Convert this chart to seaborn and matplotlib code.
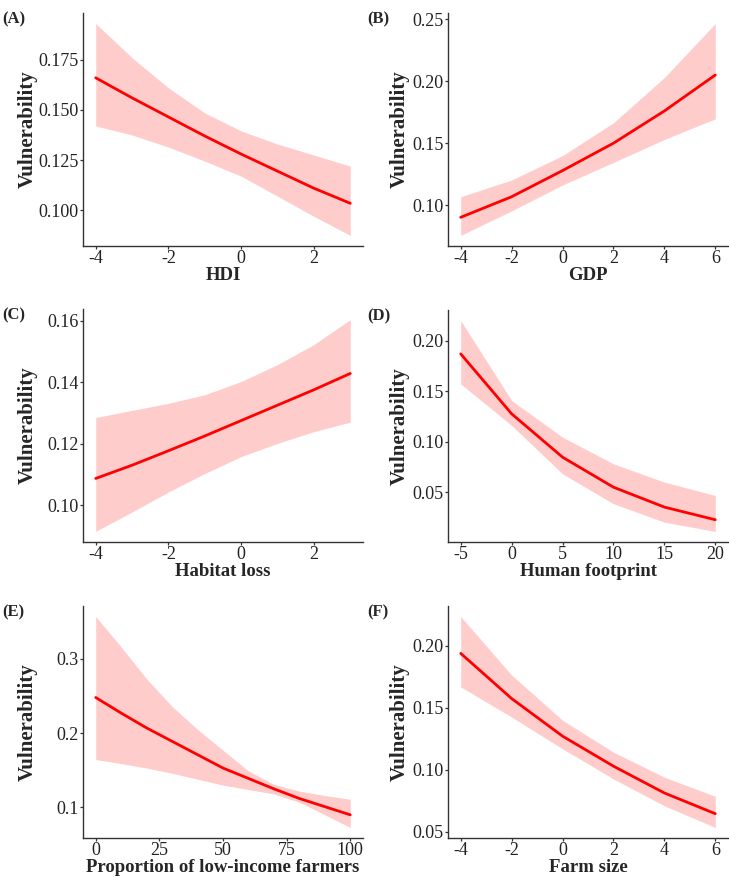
import numpy as np
import pandas as pd
import matplotlib
matplotlib.use("Agg")
import matplotlib.pyplot as plt
import seaborn as sns

# ---- data ----
hdi_x = [-4, -3, -2, -1, 0, 1, 2, 3]
hdi_fit = [0.166, 0.156, 0.1465, 0.137, 0.128, 0.1195, 0.111, 0.1035]
hdi_hi = [0.193, 0.176, 0.161, 0.1485, 0.1395, 0.133, 0.1275, 0.122]
hdi_lo = [0.142, 0.1375, 0.1315, 0.1245, 0.117, 0.107, 0.097, 0.0875]

gdp_x = [-4, -2, 0, 2, 4, 6]
gdp_fit = [0.0902, 0.1068, 0.1279, 0.150, 0.176, 0.205]
gdp_hi = [0.1068, 0.1203, 0.140, 0.1665, 0.203, 0.2465]
gdp_lo = [0.0756, 0.0954, 0.1163, 0.1345, 0.153, 0.1697]

hab_x = [-4, -3, -2, -1, 0, 1, 2, 3]
hab_fit = [0.1087, 0.113, 0.1177, 0.1225, 0.1275, 0.1325, 0.1375, 0.1428]
hab_hi = [0.1285, 0.1308, 0.1331, 0.1359, 0.1402, 0.1457, 0.1522, 0.1603]
hab_lo = [0.0915, 0.0978, 0.1043, 0.1103, 0.1158, 0.1201, 0.1239, 0.1270]

hfp_x = [-5, 0, 5, 10, 15, 20]
hfp_fit = [0.1868, 0.1275, 0.0846, 0.0549, 0.0352, 0.0227]
hfp_hi = [0.2198, 0.1407, 0.1044, 0.078, 0.0599, 0.0467]
hfp_lo = [0.1571, 0.116, 0.0681, 0.0385, 0.0203, 0.0111]

lif_x = [0, 10, 20, 30, 40, 50, 60, 70, 80, 90, 100]
lif_fit = [0.248, 0.227, 0.207, 0.189, 0.171, 0.153, 0.139, 0.125, 0.112, 0.101, 0.090]
lif_hi = [0.357, 0.316, 0.273, 0.236, 0.205, 0.177, 0.149, 0.131, 0.122, 0.116, 0.111]
lif_lo = [0.1645, 0.159, 0.153, 0.146, 0.138, 0.130, 0.124, 0.118, 0.107, 0.090, 0.073]

farm_x = [-4, -2, 0, 2, 4, 6]
farm_fit = [0.1938, 0.1574, 0.1271, 0.1029, 0.0813, 0.0646]
farm_hi = [0.2235, 0.1763, 0.1399, 0.1142, 0.094, 0.0786]
farm_lo = [0.1668, 0.1425, 0.1169, 0.0926, 0.071, 0.0535]

panel_tags = ["(A)", "(B)", "(C)", "(D)", "(E)", "(F)"]
x_labels = ["HDI", "GDP", "Habitat loss", "Human footprint",
            "Proportion of low-income farmers", "Farm size"]
x_ticks = [[-4, -2, 0, 2], [-4, -2, 0, 2, 4, 6], [-4, -2, 0, 2],
           [-5, 0, 5, 10, 15, 20], [0, 25, 50, 75, 100], [-4, -2, 0, 2, 4, 6]]
y_ticks = [[0.100, 0.125, 0.150, 0.175], [0.10, 0.15, 0.20, 0.25],
           [0.10, 0.12, 0.14, 0.16], [0.05, 0.10, 0.15, 0.20],
           [0.1, 0.2, 0.3], [0.05, 0.10, 0.15, 0.20]]
y_fmt = ["{:.3f}", "{:.2f}", "{:.2f}", "{:.2f}", "{:.1f}", "{:.2f}"]

series = [
    (hdi_x, hdi_fit, hdi_lo, hdi_hi),
    (gdp_x, gdp_fit, gdp_lo, gdp_hi),
    (hab_x, hab_fit, hab_lo, hab_hi),
    (hfp_x, hfp_fit, hfp_lo, hfp_hi),
    (lif_x, lif_fit, lif_lo, lif_hi),
    (farm_x, farm_fit, farm_lo, farm_hi),
]

sns.set_theme(style="ticks")
plt.rcParams['font.family'] = ['Liberation Serif', 'DejaVu Serif']

W, H = 729, 877
fig = plt.figure(figsize=(W / 100, H / 100), dpi=100)

# axes boxes in pixels: (left, top, right, bottom)
boxes = [
    (83, 13, 363, 246), (448, 13, 728, 246),
    (83, 309, 363, 542), (448, 310, 728, 542),
    (83, 606, 363, 838), (448, 606, 728, 838),
]
ylabel_right_px = [38, 410, 38, 410, 38, 410]
axis_col = "#333333"

for i, (box, (xs, fit, lo, hi)) in enumerate(zip(boxes, series)):
    l, t, r, b = box
    ax = fig.add_axes([l / W, 1 - b / H, (r - l) / W, (b - t) / H])
    df = pd.DataFrame({"x": xs, "fit": fit, "lo": lo, "hi": hi})
    ax.fill_between(df["x"], df["lo"], df["hi"], color="#FFCCCC", linewidth=0, zorder=1)
    sns.lineplot(data=df, x="x", y="fit", ax=ax, color="#FF0000", linewidth=2.0, zorder=2)
    ax.margins(x=0.05, y=0.05)
    ax.set_xticks(x_ticks[i])
    ax.set_xticklabels([str(v) for v in x_ticks[i]])
    ax.set_yticks(y_ticks[i])
    ax.set_yticklabels([y_fmt[i].format(v) for v in y_ticks[i]])
    ax.tick_params(axis="both", labelsize=13, colors=axis_col, length=2.5, width=0.9,
                   labelcolor="#222222", pad=0.5)
    sns.despine(ax=ax)
    for s in ("left", "bottom"):
        ax.spines[s].set_color(axis_col)
        ax.spines[s].set_linewidth(1.0)
    ax.set_xlabel(x_labels[i], fontsize=13.5, fontweight="bold", labelpad=0)
    ax.set_ylabel("Vulnerability", fontsize=15, fontweight="bold")
    ax.yaxis.set_label_coords((ylabel_right_px[i] - l) / (r - l), 0.5)
    ax.set_facecolor("white")
    fig.text((l - 81) / W, 1 - (t - 2) / H, panel_tags[i], fontsize=12,
             fontweight="bold", ha="left", va="top")

fig.savefig("out.png", dpi=100, facecolor="white")
